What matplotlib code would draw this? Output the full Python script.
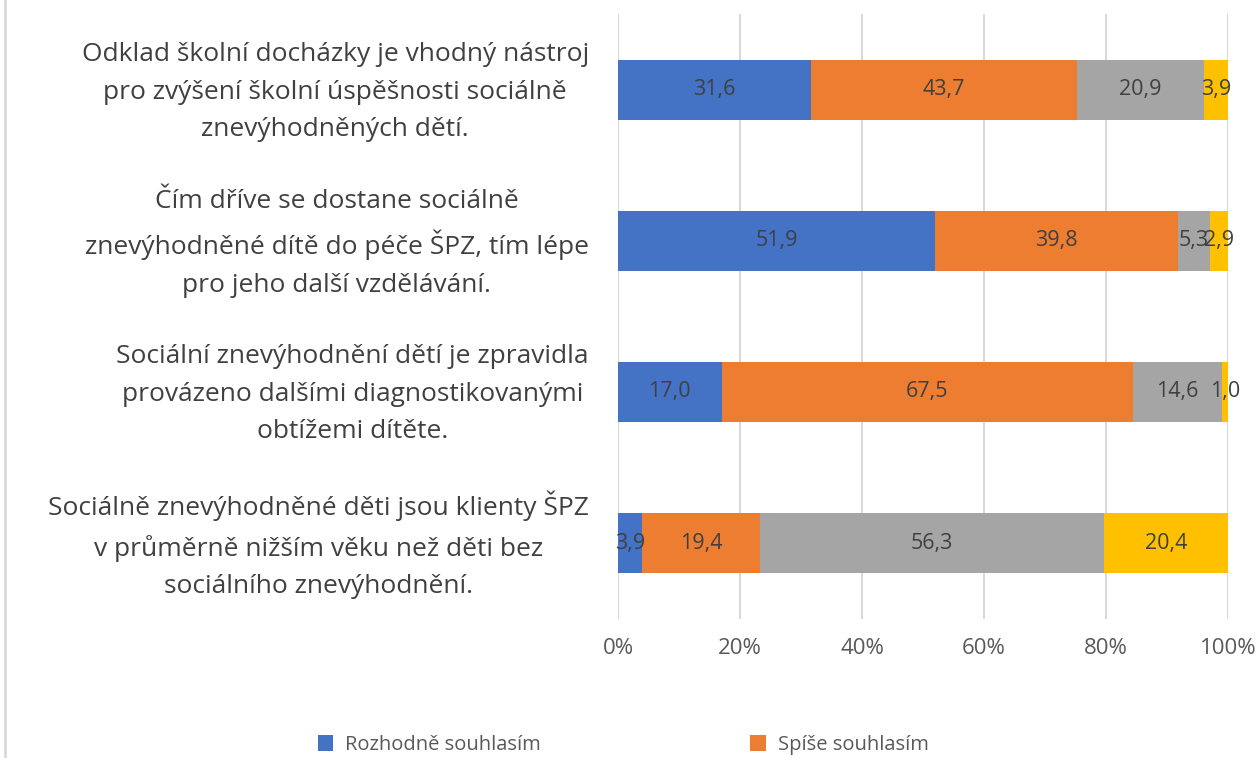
import numpy as np
import matplotlib.pyplot as plt
import matplotlib.transforms as mtransforms
from matplotlib.lines import Line2D

plt.rcParams['font.family'] = ['Open Sans', 'DejaVu Sans']

categories = [
    'Odklad školní docházky je vhodný nástroj\npro zvýšení školní úspěšnosti sociálně\nznevýhodněných dětí.',
    'Čím dříve se dostane sociálně\nznevýhodněné dítě do péče ŠPZ, tím lépe\npro jeho další vzdělávání.',
    'Sociální znevýhodnění dětí je zpravidla\nprovázeno dalšími diagnostikovanými\nobtížemi dítěte.',
    'Sociálně znevýhodněné děti jsou klienty ŠPZ\nv průměrně nižším věku než děti bez\nsociálního znevýhodnění.',
]
series_names = ['Rozhodně souhlasím', 'Spíše souhlasím', 'Spíše nesouhlasím', 'Rozhodně nesouhlasím']
rozhodne_ano = [31.6, 51.9, 17.0, 3.9]
spise_ano = [43.7, 39.8, 67.5, 19.4]
spise_ne = [20.9, 5.3, 14.6, 56.3]
rozhodne_ne = [3.9, 2.9, 1.0, 20.4]
colors = ['#4472C4', '#ED7D31', '#A5A5A5', '#FFC000']

values = np.array([rozhodne_ano, spise_ano, spise_ne, rozhodne_ne])
shares = values / values.sum(axis=0)

fig = plt.figure(figsize=(12.56, 7.58), dpi=100)
ax = fig.add_axes([0.492, 0.184, 0.4857, 0.797])

y = np.arange(len(categories))
left = np.zeros(len(categories))
bars = []
for i in range(len(series_names)):
    b = ax.barh(y, shares[i], left=left, height=0.4, color=colors[i], label=series_names[i], zorder=2)
    bars.append(b)
    for j in range(len(categories)):
        ax.text(left[j] + shares[i][j] / 2, y[j], f'{values[i][j]:.1f}'.replace('.', ','),
                ha='center', va='center', fontsize=15.5, color='#404040', zorder=3)
    left += shares[i]

ax.set_xlim(0, 1)
ax.set_ylim(len(categories) - 0.5, -0.5)
ax.set_xticks(np.arange(0, 1.01, 0.2))
ax.set_xticklabels([f'{int(t * 100)}%' for t in np.arange(0, 1.01, 0.2)])
ax.tick_params(axis='x', length=0, pad=14, labelsize=16, labelcolor='#595959')
ax.set_yticks(y)
ax.set_yticklabels(categories, fontsize=19, color='#404040', multialignment='center', linespacing=1.65)
ax.tick_params(axis='y', length=0, pad=21)
# nudge the category labels up a little
shift = mtransforms.ScaledTranslation(0, 5 / 72, fig.dpi_scale_trans)
for lab in ax.get_yticklabels():
    lab.set_transform(lab.get_transform() + shift)
ax.grid(axis='x', color='#D9D9D9', linewidth=1.5, zorder=0)
for s in ax.spines.values():
    s.set_visible(False)

# legend filled row by row, second row falls below the canvas
order = [0, 2, 1, 3]
fig.legend([bars[k] for k in order], [series_names[k] for k in order],
           loc='upper left', bbox_to_anchor=(0.25, 0.036), ncol=2, frameon=False,
           fontsize=14.5, labelcolor='#595959', handlelength=0.75, handleheight=0.85,
           handletextpad=0.6, columnspacing=10.4, labelspacing=1.6,
           borderaxespad=0, borderpad=0.2)

fig.add_artist(Line2D([0.004, 0.004], [0, 1], color='#D9D9D9', linewidth=2))

fig.savefig('out.png', dpi=100)
